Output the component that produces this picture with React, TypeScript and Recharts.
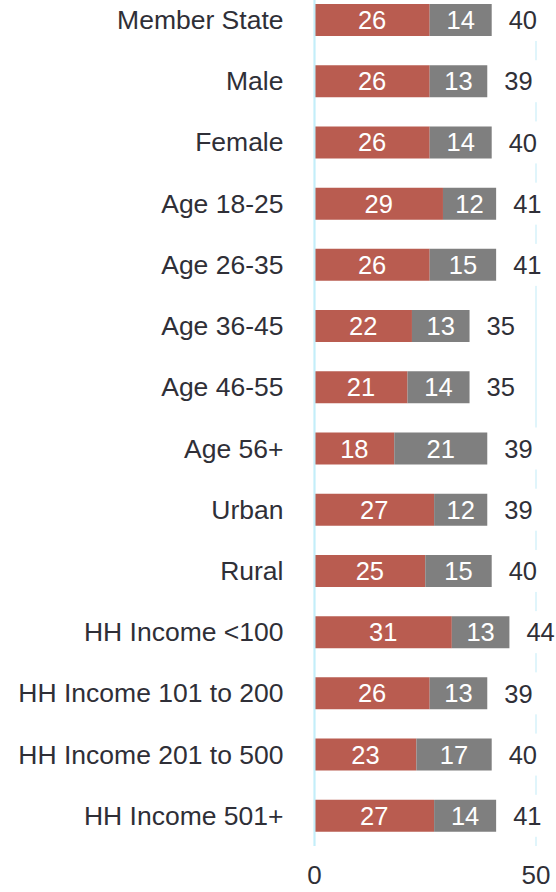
import { Bar, BarChart, CartesianGrid, LabelList, XAxis, YAxis } from "recharts";

const categories = [
  "Member State",
  "Male",
  "Female",
  "Age 18-25",
  "Age 26-35",
  "Age 36-45",
  "Age 46-55",
  "Age 56+",
  "Urban",
  "Rural",
  "HH Income <100",
  "HH Income 101 to 200",
  "HH Income 201 to 500",
  "HH Income 501+",
];
const firstValues = [26, 26, 26, 29, 26, 22, 21, 18, 27, 25, 31, 26, 23, 27];
const secondValues = [14, 13, 14, 12, 15, 13, 14, 21, 12, 15, 13, 13, 17, 14];
const totals = [40, 39, 40, 41, 41, 35, 35, 39, 39, 40, 44, 39, 40, 41];
const xTicks = [0, 50];

const data = categories.map((name, i) => ({
  name,
  first: firstValues[i],
  second: secondValues[i],
  total: totals[i],
}));

const FONT = "'Liberation Sans', Arial, sans-serif";
const TEXT = "#2f2f37";

// total sits right of the stacked bar on a white box, which hides the 50 gridline behind it
function TotalLabel(props: any) {
  const { x, y, width, height, index } = props;
  const cy = y + height / 2;
  const left = x + width + 10;
  return (
    <g>
      <rect x={left} y={cy - 21} width={50} height={42} fill="#ffffff" />
      <text
        x={left + 7}
        y={cy}
        dy="0.36em"
        fill={TEXT}
        fontSize={25.5}
        fontFamily={FONT}
      >
        {totals[index]}
      </text>
    </g>
  );
}

export default function App() {
  return (
    <div style={{ position: "absolute", left: 0, top: 0, width: 556, height: 892, overflow: "hidden", background: "#fff" }}>
      <div style={{ position: "absolute", left: 0, top: -11 }}>
        <BarChart
          width={556}
          height={915}
          data={data}
          layout="vertical"
          margin={{ top: 0, right: 20, bottom: 18, left: 0 }}
          barSize={32}
        >
          <CartesianGrid horizontal={false} stroke="#d6f2fa" strokeWidth={1.5} />
          <XAxis
            type="number"
            domain={[0, 50]}
            ticks={xTicks}
            axisLine={false}
            tickLine={false}
            tickSize={0}
            tickMargin={20}
            height={40}
            tick={{ fill: TEXT, fontSize: 26, fontFamily: FONT }}
          />
          <YAxis
            type="category"
            dataKey="name"
            width={314.5}
            axisLine={{ stroke: "#c4eef9", strokeWidth: 2 }}
            tickLine={false}
            tickSize={0}
            tickMargin={31}
            interval={0}
            tick={{ fill: TEXT, fontSize: 26.5, fontFamily: FONT }}
          />
          <Bar dataKey="first" stackId="a" fill="#b95c50" isAnimationActive={false}>
            <LabelList dataKey="first" position="center" fill="#ffffff" fontSize={25.5} fontFamily={FONT} />
          </Bar>
          <Bar dataKey="second" stackId="a" fill="#7f7f7f" isAnimationActive={false}>
            <LabelList dataKey="second" position="center" fill="#ffffff" fontSize={25.5} fontFamily={FONT} />
            <LabelList dataKey="total" content={<TotalLabel />} />
          </Bar>
        </BarChart>
      </div>
    </div>
  );
}
